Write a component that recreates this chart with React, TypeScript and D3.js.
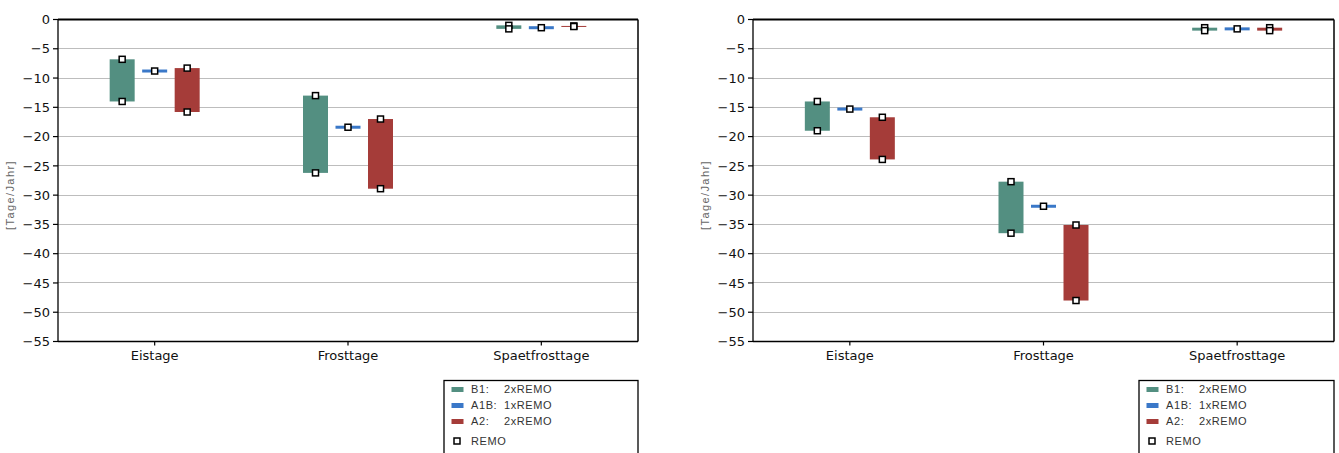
import React from "react";
import * as d3 from "d3";

const categories = ["Eistage", "Frosttage", "Spaetfrosttage"];
const seriesNames = ["B1", "A1B", "A2"];
const yTicks = [0, -5, -10, -15, -20, -25, -30, -35, -40, -45, -50, -55];

// Left panel: [upper, lower] per category
const b1Left: [number, number][] = [[-6.8, -14.0], [-13.0, -26.2], [-1.0, -1.6]];
const a1bLeft = [-8.8, -18.4, -1.4];
const a2Left: [number, number][] = [[-8.3, -15.8], [-17.0, -28.9], [-1.1, -1.2]];

// Right panel
const b1Right: [number, number][] = [[-14.0, -19.0], [-27.7, -36.5], [-1.4, -1.9]];
const a1bRight = [-15.3, -31.9, -1.6];
const a2Right: [number, number][] = [[-16.7, -23.9], [-35.1, -48.0], [-1.4, -1.9]];

const legendRows = [
  { key: "B1", label: "B1:", runs: "2xREMO" },
  { key: "A1B", label: "A1B:", runs: "1xREMO" },
  { key: "A2", label: "A2:", runs: "2xREMO" },
];

const COLORS: Record<string, string> = {
  B1: "#538f81",
  A1B: "#3a78c8",
  A2: "#a53c39",
};

const TOP = 19.5;
const BOTTOM = 341.5;
const FONT = "'DejaVu Sans', sans-serif";
const LFONT = "'Liberation Sans', Arial, sans-serif";

function Marker({ x, y }: { x: number; y: number }) {
  return <rect x={x - 3} y={y - 3} width={6} height={6} fill="#fff" stroke="#000" strokeWidth={1.5} />;
}

function Panel({
  x0,
  x1,
  b1,
  a1b,
  a2,
}: {
  x0: number;
  x1: number;
  b1: [number, number][];
  a1b: number[];
  a2: [number, number][];
}) {
  const y = d3.scaleLinear().domain([0, -55]).range([TOP, BOTTOM]);
  const x = d3.scaleBand<string>().domain(categories).range([x0, x1]).padding(0);
  const off = d3.scalePoint<string>().domain(seriesNames).range([-32.5, 32.5]);
  const bw = 25;
  const cx = (c: string, s: string) => (x(c) as number) + x.bandwidth() / 2 + (off(s) as number);

  const bars = (data: [number, number][], s: string) =>
    data.map((d, i) => {
      const c = categories[i];
      const yt = y(Math.max(d[0], d[1]));
      const yb = y(Math.min(d[0], d[1]));
      const xc = cx(c, s);
      return (
        <rect key={s + i} x={xc - bw / 2} y={yt} width={bw} height={Math.max(1, yb - yt)} fill={COLORS[s]} />
      );
    });
  const markersRange = (data: [number, number][], s: string) =>
    data.map((d, i) => {
      const xc = cx(categories[i], s);
      return (
        <g key={"m" + s + i}>
          <Marker x={xc} y={y(d[0])} />
          <Marker x={xc} y={y(d[1])} />
        </g>
      );
    });

  const legX = x0 + 386;
  const legY = 380.5;

  return (
    <g>
      {yTicks.slice(1, -1).map((t) => (
        <line key={t} x1={x0} x2={x1} y1={y(t)} y2={y(t)} stroke="#bdbdbd" strokeWidth={1} shapeRendering="crispEdges" />
      ))}
      {bars(b1, "B1")}
      {bars(a2, "A2")}
      {a1b.map((v, i) => {
        const xc = cx(categories[i], "A1B");
        return <line key={"a" + i} x1={xc - bw / 2} x2={xc + bw / 2} y1={y(v)} y2={y(v)} stroke={COLORS.A1B} strokeWidth={3} />;
      })}
      {markersRange(b1, "B1")}
      {markersRange(a2, "A2")}
      {a1b.map((v, i) => (
        <Marker key={"am" + i} x={cx(categories[i], "A1B")} y={y(v)} />
      ))}
      <line x1={x0} x2={x1} y1={TOP} y2={TOP} stroke="#000" strokeWidth={2} />
      <line x1={x0} x2={x1} y1={BOTTOM} y2={BOTTOM} stroke="#000" strokeWidth={1.3} />
      <line x1={x0} x2={x0} y1={TOP} y2={BOTTOM} stroke="#000" strokeWidth={1.3} />
      <line x1={x1} x2={x1} y1={TOP} y2={BOTTOM} stroke="#000" strokeWidth={1.5} />
      {yTicks.map((t) => (
        <g key={"yt" + t}>
          <line x1={x0 - 5} x2={x0} y1={y(t)} y2={y(t)} stroke="#000" strokeWidth={1.2} />
          <text x={x0 - 8} y={y(t)} dy="0.36em" textAnchor="end" fontFamily={FONT} fontSize={13} fill="#111">
            {t === 0 ? "0" : "\u2212" + Math.abs(t)}
          </text>
        </g>
      ))}
      {categories.map((c) => {
        const xc = (x(c) as number) + x.bandwidth() / 2;
        return (
          <g key={c}>
            <line x1={xc} x2={xc} y1={BOTTOM} y2={BOTTOM + 4} stroke="#000" strokeWidth={1.2} />
            <text x={xc} y={360} textAnchor="middle" fontFamily={FONT} fontSize={13} fill="#111">
              {c}
            </text>
          </g>
        );
      })}
      <text
        transform={`translate(${x0 - 44.5},${195}) rotate(-90)`}
        textAnchor="middle"
        fontFamily={LFONT}
        fontSize={11}
        letterSpacing={1.4}
        fill="#666"
      >
        [Tage/Jahr]
      </text>
      <rect x={legX} y={legY} width={x1 - legX} height={120} fill="#fff" stroke="#000" strokeWidth={1.3} />
      {legendRows.map((r, i) => {
        const ry = 389.5 + i * 16;
        return (
          <g key={r.key}>
            <rect x={legX + 7.5} y={ry - 2.5} width={12} height={5} fill={COLORS[r.key]} />
            <text x={legX + 27} y={ry} dy="0.36em" fontFamily={LFONT} fontSize={11} letterSpacing={0.6} fill="#333">
              {r.label}
            </text>
            <text x={legX + 60} y={ry} dy="0.36em" fontFamily={LFONT} fontSize={11} letterSpacing={0.6} fill="#333">
              {r.runs}
            </text>
          </g>
        );
      })}
      <rect x={legX + 10} y={441 - 3} width={6} height={6} fill="#fff" stroke="#000" strokeWidth={1.5} />
      <text x={legX + 27} y={441} dy="0.36em" fontFamily={LFONT} fontSize={11} letterSpacing={0.6} fill="#333">
        REMO
      </text>
    </g>
  );
}

export default function App() {
  return (
    <svg width={1339} height={453} style={{ position: "absolute", left: 0, top: 0, background: "#fff" }}>
      <rect x={0} y={0} width={1339} height={453} fill="#fff" />
      <Panel x0={58} x1={638} b1={b1Left} a1b={a1bLeft} a2={a2Left} />
      <Panel x0={753} x1={1334} b1={b1Right} a1b={a1bRight} a2={a2Right} />
    </svg>
  );
}
